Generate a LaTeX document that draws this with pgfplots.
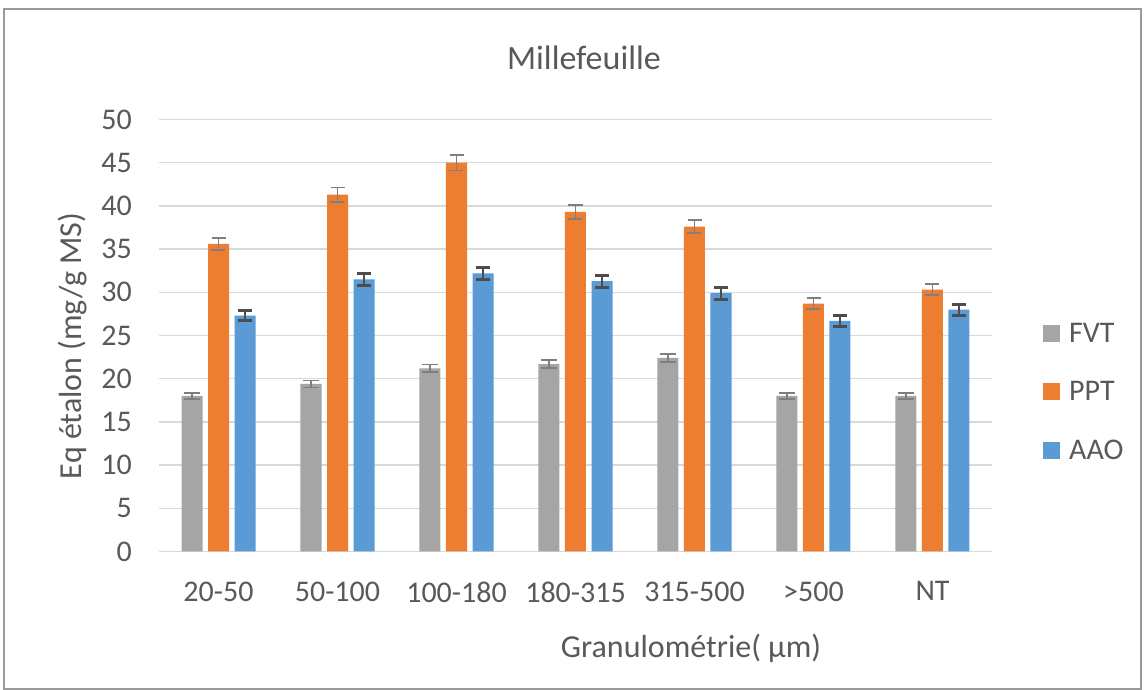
\documentclass[border=0pt]{standalone}
\usepackage{pgfplots}
\pgfplotsset{compat=1.18}
\usepackage{pgfplotstable}
\usepackage{fontspec}
\setmainfont{Carlito}
\definecolor{fvt}{HTML}{A5A5A5}
\definecolor{ppt}{HTML}{ED7D31}
\definecolor{aao}{HTML}{5B9BD5}
\definecolor{gridc}{HTML}{D9D9D9}
\definecolor{txt}{HTML}{595959}
\definecolor{errl}{HTML}{7F7F7F}
\definecolor{errd}{HTML}{4D4D4D}
\definecolor{framec}{HTML}{9A9A9A}

\pgfplotstableread{
x fvt fvte ppt ppte aao aaoe
0 18.0 0.35 35.6 0.70 27.3 0.60
1 19.4 0.40 41.3 0.83 31.5 0.68
2 21.2 0.45 45.0 0.90 32.2 0.68
3 21.7 0.45 39.3 0.83 31.3 0.70
4 22.4 0.46 37.6 0.75 29.9 0.70
5 18.0 0.37 28.7 0.64 26.7 0.62
6 18.0 0.37 30.3 0.64 28.0 0.64
}\data

\begin{document}
\begin{tikzpicture}
\useasboundingbox (0pt,0pt) rectangle (1144pt,690pt);
\fill[white] (0pt,0pt) rectangle (1144pt,690pt);
\draw[framec, line width=1.5pt] (4pt,1pt) rectangle (1141pt,681pt);
\begin{axis}[
  at={(159pt,138.5pt)}, anchor=south west,
  scale only axis, width=833pt, height=432pt,
  ybar=5.5pt, bar width=21pt,
  every axis plot/.append style={legend image code/.code={\fill[#1] (0pt,-8.5pt) rectangle (17pt,8.5pt);}},
  xmin=-0.5, xmax=6.5, ymin=0, ymax=50,
  xtick={0,...,6},
  xticklabels={20-50,50-100,100-180,180-315,315-500,>500,NT},
  ytick={0,5,...,50},
  ymajorgrids, grid style={gridc, line width=1.5pt},
  axis x line*=bottom, axis y line*=left,
  x axis line style={gridc, line width=1.5pt, -},
  y axis line style={draw=none},
  major tick length=0pt,
  tick label style={font=\fontsize{30}{36}\selectfont, text=txt, inner sep=0pt},
  xticklabel style={anchor=north, yshift=-30pt},
  yticklabel style={anchor=east, xshift=-27pt},
  /pgf/number format/assume math mode=true,
  legend style={at={(1.0612,0.369)}, anchor=west, draw=none, fill=none, inner sep=0pt,
    font=\fontsize{30}{36}\selectfont, text=txt, row sep=38pt, nodes={inner sep=0pt},
    /tikz/every odd column/.append style={column sep=9pt}},
  legend cell align=left,
]
\addplot[fill=fvt, draw=none,
  error bars/.cd, y dir=both, y explicit,
  error bar style={draw=errl, line width=1.5pt},
  error mark options={draw=errl, line width=1.5pt, mark size=8pt, rotate=90}]
  table[x=x, y=fvt, y error=fvte]{\data};
\addplot[fill=ppt, draw=none,
  error bars/.cd, y dir=both, y explicit,
  error bar style={draw=errl, line width=1.5pt},
  error mark options={draw=errl, line width=1.5pt, mark size=7pt, rotate=90}]
  table[x=x, y=ppt, y error=ppte]{\data};
\addplot[fill=aao, draw=none,
  error bars/.cd, y dir=both, y explicit,
  error bar style={draw=errd, line width=2.5pt},
  error mark options={draw=errd, line width=3pt, mark size=7pt, rotate=90}]
  table[x=x, y=aao, y error=aaoe]{\data};
\legend{FVT,PPT,AAO}
\end{axis}
\node[font=\fontsize{34}{40}\selectfont, text=txt] at (584pt,632pt) {Millefeuille};
\node[rotate=90, font=\fontsize{32}{38}\selectfont, text=txt] at (73pt,344pt) {Eq étalon (mg/g MS)};
\node[font=\fontsize{32}{38}\selectfont, text=txt] at (691pt,42pt) {Granulométrie( µm)};
\end{tikzpicture}
\end{document}
